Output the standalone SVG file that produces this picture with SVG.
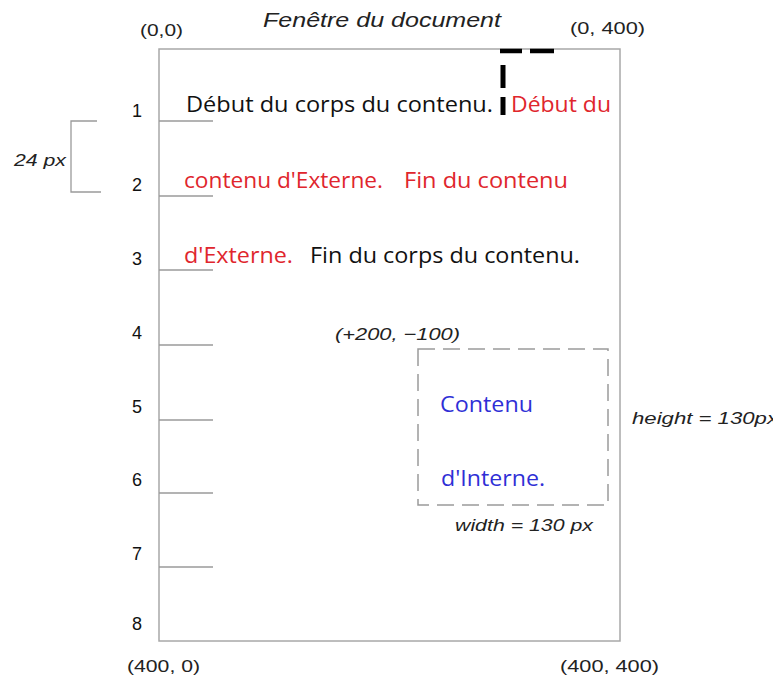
<svg xmlns="http://www.w3.org/2000/svg" width="773" height="679" viewBox="0 0 773 679">
<style>
.lbl{font-family:"Liberation Sans",Arial,sans-serif;fill:#222}
.it{font-style:italic}
.num{font-family:"Liberation Sans",Arial,sans-serif;font-size:18px;fill:#111;text-anchor:middle}
.body{font-family:"Open Sans","Liberation Sans",sans-serif;font-size:21px}
.blk{fill:#111}
.red{fill:#e0262d}
.blue{fill:#2f2fd6}
.tick{stroke:#9a9a9a;stroke-width:1.3}
</style>
<rect width="773" height="679" fill="#fff"/>
<g id="window">
<rect x="159" y="49" width="461" height="592" fill="none" stroke="#a8a8a8" stroke-width="1.5"/>
<text class="lbl it" x="382" y="27" font-size="20" text-anchor="middle" textLength="238" lengthAdjust="spacingAndGlyphs">Fenêtre du document</text>
<text class="lbl" x="140" y="36" font-size="17" textLength="43" lengthAdjust="spacingAndGlyphs">(0,0)</text>
<text class="lbl" x="570" y="34" font-size="17" textLength="75" lengthAdjust="spacingAndGlyphs">(0, 400)</text>
<text class="lbl" x="127" y="672" font-size="17" textLength="73" lengthAdjust="spacingAndGlyphs">(400, 0)</text>
<text class="lbl" x="560" y="672" font-size="17" textLength="99" lengthAdjust="spacingAndGlyphs">(400, 400)</text>
</g>
<g id="ticks">
<line class="tick" x1="159" y1="121" x2="213" y2="121"/>
<line class="tick" x1="159" y1="196" x2="213" y2="196"/>
<line class="tick" x1="159" y1="270" x2="213" y2="270"/>
<line class="tick" x1="159" y1="345" x2="213" y2="345"/>
<line class="tick" x1="159" y1="420" x2="213" y2="420"/>
<line class="tick" x1="159" y1="493" x2="213" y2="493"/>
<line class="tick" x1="159" y1="567" x2="213" y2="567"/>
<text class="num" x="137" y="117">1</text>
<text class="num" x="137" y="191">2</text>
<text class="num" x="137" y="265">3</text>
<text class="num" x="137" y="339">4</text>
<text class="num" x="137" y="413">5</text>
<text class="num" x="137" y="486">6</text>
<text class="num" x="137" y="560">7</text>
<text class="num" x="137" y="630">8</text>
</g>
<g id="bracket">
<path d="M97 121 H71 V192 H101" fill="none" stroke="#9a9a9a" stroke-width="1.3"/>
<text class="lbl it" x="14" y="166" font-size="17" textLength="52" lengthAdjust="spacingAndGlyphs">24 px</text>
</g>
<g id="cursor">
<path d="M500 51 H522 M530 51 H554" stroke="#000" stroke-width="4.5" fill="none"/>
<path d="M503 65 V88 M503 97 V115" stroke="#000" stroke-width="5" fill="none"/>
</g>
<g id="external-text">
<text class="body blk" x="186" y="112" textLength="307" lengthAdjust="spacingAndGlyphs">Début du corps du contenu.</text>
<text class="body red" x="511" y="112" textLength="100" lengthAdjust="spacingAndGlyphs">Début du</text>
<text class="body red" x="184" y="188" textLength="199" lengthAdjust="spacingAndGlyphs">contenu d'Externe.</text>
<text class="body red" x="404" y="188" textLength="164" lengthAdjust="spacingAndGlyphs">Fin du contenu</text>
<text class="body red" x="184" y="263" textLength="109" lengthAdjust="spacingAndGlyphs">d'Externe.</text>
<text class="body blk" x="310" y="263" textLength="270" lengthAdjust="spacingAndGlyphs">Fin du corps du contenu.</text>
</g>
<g id="internal">
<rect x="418" y="349" width="190" height="156" fill="none" stroke="#9a9a9a" stroke-width="1.5" stroke-dasharray="17,8"/>
<text class="lbl it" x="335" y="340" font-size="17" textLength="125" lengthAdjust="spacingAndGlyphs">(+200, −100)</text>
<text class="body blue" x="440" y="412" textLength="93" lengthAdjust="spacingAndGlyphs">Contenu</text>
<text class="body blue" x="441" y="486" textLength="104" lengthAdjust="spacingAndGlyphs">d'Interne.</text>
<text class="lbl it" x="632" y="424" font-size="17" textLength="146" lengthAdjust="spacingAndGlyphs">height = 130px</text>
<text class="lbl it" x="455" y="531" font-size="17" textLength="138" lengthAdjust="spacingAndGlyphs">width = 130 px</text>
</g>
</svg>
